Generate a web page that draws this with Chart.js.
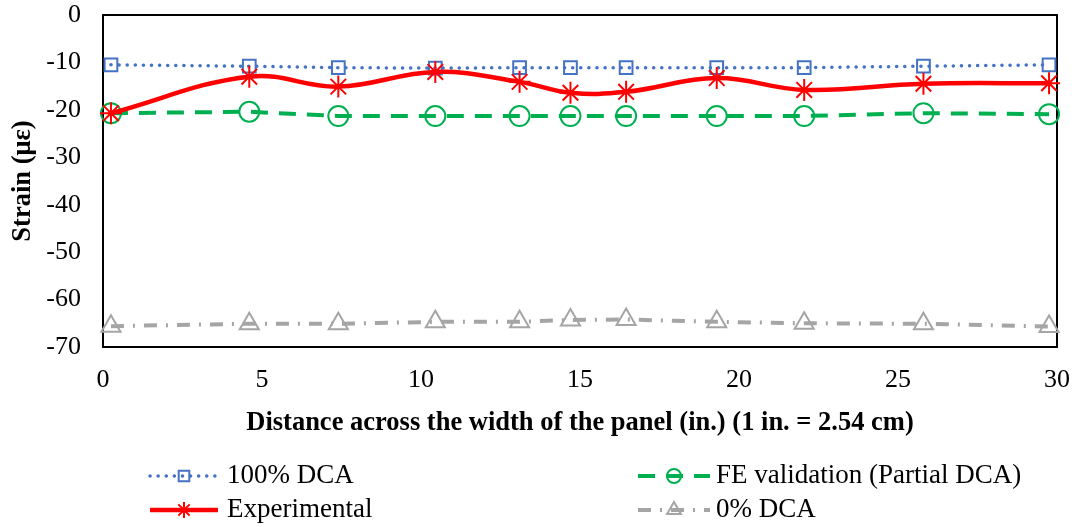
<!DOCTYPE html>
<html>
<head>
<meta charset="utf-8">
<script src="https://cdn.jsdelivr.net/npm/chart.js@4/dist/chart.umd.min.js"></script>
<style>
    html, body { margin: 0; padding: 0; background: #fff; }
    #wrap { width: 1076px; height: 527px; }
</style>
</head>
<body>
<div id="wrap"><canvas id="strain-chart" width="1076" height="527"></canvas></div>
<script>
// ============================================
// STRAIN ACROSS PANEL WIDTH
// ============================================

// distance across the width of the panel (in.)
const distance = [0.25, 4.6, 7.4, 10.45, 13.1, 14.7, 16.45, 19.3, 22.05, 25.8, 29.75];

// strain (micro-strain) for each series
const dca100 = [-10.5, -10.8, -11.1, -11.2, -11.1, -11.1, -11.1, -11.1, -11.1, -10.8, -10.5];
const feValidation = [-20.7, -20.4, -21.3, -21.3, -21.3, -21.3, -21.3, -21.3, -21.3, -20.7, -20.9];
const experimental = [-20.7, -13.0, -15.1, -12.0, -14.1, -16.4, -16.2, -13.3, -15.8, -14.5, -14.4];
const dca0 = [-65.6, -65.1, -65.1, -64.7, -64.7, -64.3, -64.2, -64.7, -65.0, -65.1, -65.7];

const xTicks = [0, 5, 10, 15, 20, 25, 30];
const yTicks = [0, -10, -20, -30, -40, -50, -60, -70];

const serif = "'Liberation Serif', 'Times New Roman', serif";

function toPoints(ys) {
    return distance.map((x, i) => ({ x: x, y: ys[i] }));
}

const datasets = [
    {
        label: '100% DCA',
        data: toPoints(dca100),
        borderColor: '#4472C4',
        borderWidth: 3.5,
        borderDash: [0.1, 8],
        borderCapStyle: 'round',
        pointStyle: 'rect',
        pointRadius: 9,
        pointBorderWidth: 2,
        pointBorderColor: '#4472C4',
        pointBackgroundColor: 'rgba(0,0,0,0)',
        tension: 0,
        order: 2,
        legendRow: 0, legendCol: 0, legendRadius: 7.5
    },
    {
        label: 'FE validation (Partial DCA)',
        data: toPoints(feValidation),
        borderColor: '#00B050',
        borderWidth: 4,
        borderDash: [17, 11],
        pointStyle: 'circle',
        pointRadius: 10,
        pointBorderWidth: 2,
        pointBorderColor: '#00B050',
        pointBackgroundColor: 'rgba(0,0,0,0)',
        tension: 0,
        order: 1,
        legendRow: 0, legendCol: 1, legendRadius: 7
    },
    {
        label: 'Experimental',
        data: toPoints(experimental),
        borderColor: '#FF0000',
        borderWidth: 4.5,
        pointStyle: 'star',
        pointRadius: 11,
        pointBorderWidth: 2,
        pointBorderColor: '#FF0000',
        pointBackgroundColor: '#FF0000',
        tension: 0.4,
        order: 0,
        legendRow: 1, legendCol: 0, legendRadius: 8
    },
    {
        label: '0% DCA',
        data: toPoints(dca0),
        borderColor: '#A5A5A5',
        borderWidth: 4,
        borderDash: [13, 9, 2, 9],
        pointStyle: 'triangle',
        pointRadius: 11,
        pointBorderWidth: 2,
        pointBorderColor: '#A5A5A5',
        pointBackgroundColor: 'rgba(0,0,0,0)',
        tension: 0,
        order: 3,
        legendRow: 1, legendCol: 1, legendRadius: 8
    }
];

// frame round the plot area (top and right sides)
const framePlugin = {
    id: 'frame',
    beforeDatasetsDraw(chart) {
        const { ctx, chartArea: a } = chart;
        ctx.save();
        ctx.strokeStyle = '#000';
        ctx.lineWidth = 2;
        ctx.strokeRect(a.left, a.top, a.right - a.left, a.bottom - a.top);
        ctx.restore();
    }
};

// two-column legend under the chart
const legendPlugin = {
    id: 'twoColLegend',
    afterDraw(chart) {
        const ctx = chart.ctx;
        const cols = [{ x1: 150, x2: 218, text: 227 }, { x1: 638, x2: 710, text: 716 }];
        const rows = [476, 510];
        ctx.save();
        chart.data.datasets.forEach(ds => {
            const c = cols[ds.legendCol];
            const y = rows[ds.legendRow];
            ctx.strokeStyle = ds.borderColor;
            ctx.lineWidth = ds.borderWidth;
            ctx.lineCap = ds.borderCapStyle || 'butt';
            ctx.setLineDash(ds.borderDash || []);
            ctx.beginPath();
            ctx.moveTo(c.x1, y);
            ctx.lineTo(c.x2, y);
            ctx.stroke();
            ctx.setLineDash([]);
            ctx.lineWidth = ds.pointBorderWidth;
            ctx.fillStyle = ds.pointBackgroundColor;
            Chart.helpers.drawPoint(ctx, {
                pointStyle: ds.pointStyle,
                radius: ds.legendRadius,
                borderWidth: ds.pointBorderWidth,
                rotation: 0
            }, (c.x1 + c.x2) / 2, y);
            ctx.fillStyle = '#000';
            ctx.font = '27px ' + serif;
            ctx.textBaseline = 'middle';
            ctx.textAlign = 'left';
            ctx.fillText(ds.label, c.text, y);
        });
        ctx.restore();
    }
};

new Chart(document.getElementById('strain-chart'), {
    type: 'line',
    data: { datasets: datasets },
    plugins: [framePlugin, legendPlugin],
    options: {
        responsive: false,
        animation: false,
        clip: false,
        layout: { padding: { top: 15, right: 19, bottom: 80, left: 0 } },
        plugins: {
            legend: { display: false },
            tooltip: { enabled: false }
        },
        datasets: { line: { clip: false } },
        scales: {
            x: {
                type: 'linear',
                min: 0,
                max: 30,
                afterFit: scale => {
                    scale.height = 100;
                    scale.paddingLeft = 0;
                    scale.paddingRight = 0;
                },
                afterBuildTicks: scale => { scale.ticks = xTicks.map(v => ({ value: v })); },
                grid: { display: false, drawTicks: false },
                border: { display: true, color: '#000', width: 2 },
                ticks: {
                    color: '#000',
                    padding: 18,
                    font: { family: serif, size: 26 }
                },
                title: {
                    display: true,
                    text: 'Distance across the width of the panel (in.) (1 in. = 2.54 cm)',
                    color: '#000',
                    padding: { top: 0, bottom: 8 },
                    font: { family: serif, size: 26.5, weight: 'bold', lineHeight: 1.2 }
                }
            },
            y: {
                min: -70,
                max: 0,
                afterFit: scale => {
                    scale.width = 103;
                    scale.paddingTop = 0;
                    scale.paddingBottom = 0;
                },
                afterBuildTicks: scale => { scale.ticks = yTicks.map(v => ({ value: v })); },
                grid: { display: false, drawTicks: false },
                border: { display: true, color: '#000', width: 2 },
                ticks: {
                    color: '#000',
                    padding: 22,
                    font: { family: serif, size: 26 }
                },
                title: {
                    display: true,
                    text: 'Strain (με)',
                    color: '#000',
                    padding: { top: 7, bottom: 0 },
                    font: { family: serif, size: 26.5, weight: 'bold', lineHeight: 1.2 }
                }
            }
        }
    }
});
</script>
</body>
</html>
